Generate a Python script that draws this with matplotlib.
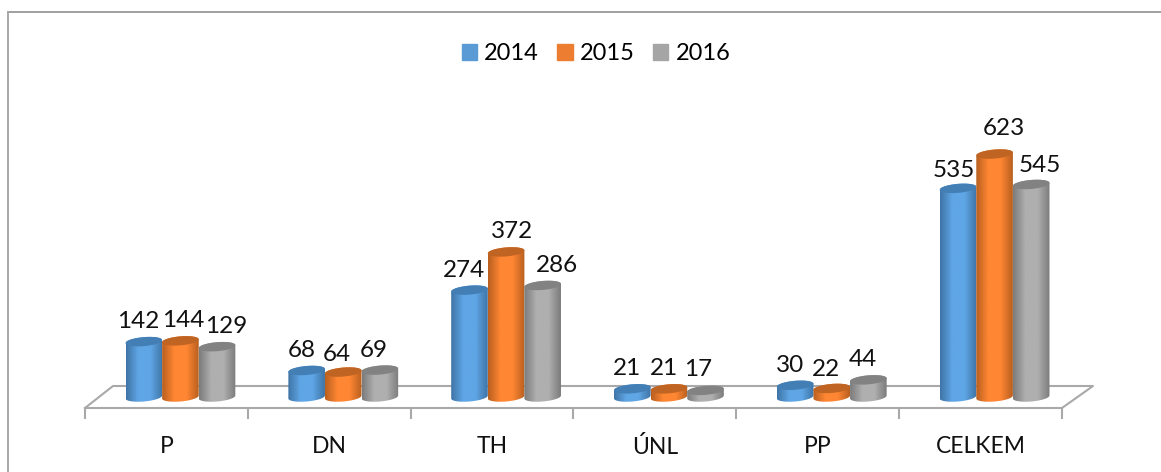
import numpy as np
import matplotlib
matplotlib.use("Agg")
import matplotlib.pyplot as plt
from matplotlib.colors import LinearSegmentedColormap
from matplotlib.patches import Patch, Polygon

plt.rcParams['font.family'] = ['Lato', 'DejaVu Sans']

categories = ['P', 'DN', 'TH', 'ÚNL', 'PP', 'CELKEM']
v2014 = [142, 68, 274, 21, 30, 535]
v2015 = [144, 64, 372, 21, 22, 623]
v2016 = [129, 69, 286, 17, 44, 545]
years = ['2014', '2015', '2016']

# pixel nudges of the value labels relative to the bar top centre
label_dx = [[-6, -5, -5, -5, -5, -4], [3, -6, 6, -5, -6, 9], [9, -6, 14, -7, -6, 9]]
label_dy = [[20, 20, 20, 20, 20, 18], [20, 18, 20, 20, 19, 26], [20, 20, 20, 21, 20, 19]]

# edge, centre, top colours of each cylinder
edge_cols = ['#3f74a6', '#b9601f', '#7c7c7c']
mid_cols = ['#5fa6e6', '#ff8633', '#afafaf']
top_cols = ['#437fb5', '#bf6422', '#828282']
legend_cols = ['#5b9bd5', '#ed7d31', '#a5a5a5']
floor_col = '#a9a9a9'

W, H = 1161, 472
fig = plt.figure(figsize=(W / 100, H / 100), dpi=100)

# axes run from the first to the last tick, bottom edge is the front floor line
left, right, bottom, top = 85, 1062, 408, 12
ax = fig.add_axes([left / W, 1 - bottom / H, (right - left) / W, (bottom - top) / H])
px_x = (right - left) / 6          # pixels per category
px_y = 0.39                        # pixels per unit
base = 397                         # pixel row of value 0

bar_w = 36.6 / px_x
shift = 14 / px_x
rx = bar_w / 2
ry = 4.5 / px_y
tilt = 1.5 / px_y
t = np.linspace(0, 2 * np.pi, 80)
tt = np.linspace(0, 1, 64)


def ring(cx, y):
    return np.column_stack([cx + rx * np.cos(t), y + ry * np.sin(t) + tilt * np.cos(t)])


for s, vals in enumerate([v2014, v2015, v2016]):
    cmap = LinearSegmentedColormap.from_list('c', [edge_cols[s], mid_cols[s], mid_cols[s], edge_cols[s]])
    for i, v in enumerate(vals):
        cx = i + shift + (s - 1) * bar_w
        low = ring(cx, 0)
        high = ring(cx, v)
        half = t >= np.pi
        body = np.vstack([low[half], high[~half]])
        im = ax.imshow(tt[None, :], extent=(cx - rx, cx + rx, -ry - tilt, v + ry + tilt),
                       aspect='auto', cmap=cmap, zorder=3 + i + s * 0.1, interpolation='bilinear')
        clip = Polygon(body, closed=True, transform=ax.transData, fc='none', ec='none')
        ax.add_patch(clip)
        im.set_clip_path(clip)
        ax.add_patch(Polygon(high, closed=True, fc=top_cols[s], ec='none', zorder=3.05 + i + s * 0.1))
        ax.annotate(str(v), (cx, v), xytext=(label_dx[s][i] * 0.72, label_dy[s][i] * 0.72),
                    textcoords='offset points', ha='center', va='center', fontsize=17.5,
                    color='#111111', zorder=20)

ax.set_xlim(-0.5, 5.5)
ax.set_ylim((base - bottom) / px_y, (base - top) / px_y)
ax.set_yticks([])
ax.set_xticks(range(6))
ax.set_xticklabels(categories, fontsize=16.5, color='#111111')
ax.tick_params(axis='x', which='major', length=0, pad=20)
ax.set_xticks(np.arange(-0.5, 6), minor=True)
ax.tick_params(axis='x', which='minor', length=8, width=1.5, color=floor_col)
for name in ['top', 'left', 'right']:
    ax.spines[name].set_visible(False)
ax.spines['bottom'].set_color(floor_col)
ax.spines['bottom'].set_linewidth(1.5)
ax.patch.set_alpha(0)

# back and side edges of the floor
back_y = (base - 386) / px_y
front_y = (base - bottom) / px_y
xl = -0.5 + 28 / px_x
xr = 5.5 + 31 / px_x
ax.plot([-0.5, xl, xr, 5.5], [front_y, back_y, back_y, front_y], color=floor_col, lw=1.5,
        clip_on=False, zorder=1)

# outer frame: only top and left edges show in the crop
fig.add_artist(plt.Line2D([7.5 / W, 1], [1 - 11.5 / H, 1 - 11.5 / H], color='#8f8f8f', lw=1.2))
fig.add_artist(plt.Line2D([7.5 / W, 7.5 / W], [0, 1 - 11.5 / H], color='#a8a8a8', lw=1.4))

handles = [Patch(color=c, label=y) for c, y in zip(legend_cols, years)]
fig.legend(handles=handles, loc='center', bbox_to_anchor=(596 / W, 1 - 54 / H), ncol=3, frameon=False,
           fontsize=17, handlelength=0.64, handleheight=0.64, handletextpad=0.3, columnspacing=0.8)

fig.savefig('out.png', dpi=100)
